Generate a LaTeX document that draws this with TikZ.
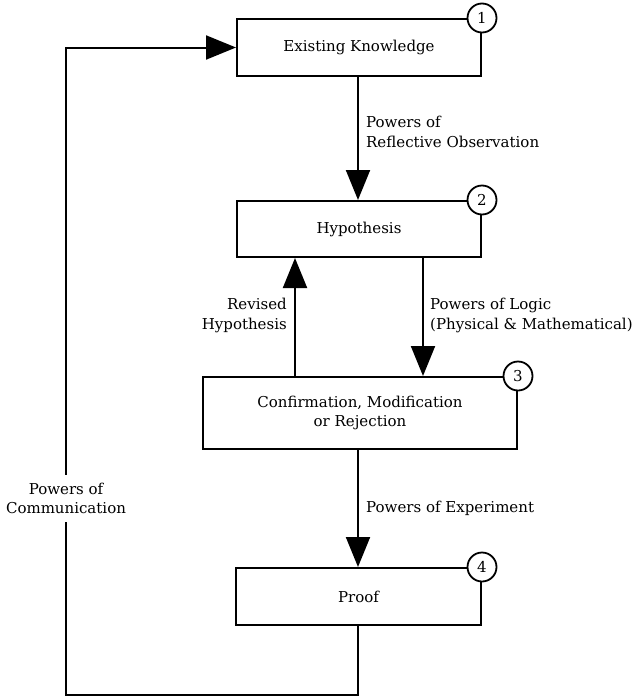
\documentclass[tikz,border=0pt]{standalone}
\usepackage{fontspec}
\setmainfont{DejaVu Serif}
\usetikzlibrary{arrows.meta}
\begin{document}
\begin{tikzpicture}[x=1pt,y=-1pt,
  every node/.style={font=\fontsize{15}{19.5}\selectfont},
  stage/.style={draw,line width=2pt,fill=white,inner sep=0pt},
  num/.style={draw,circle,line width=1.8pt,fill=white,minimum size=29pt,inner sep=0pt,
    font=\fontsize{15}{15}\selectfont},
  flow/.style={line width=2pt,-{Triangle[width=24pt,length=30pt]}},
  plain/.style={line width=2pt},
  lbl/.style={align=left,inner sep=0pt}]
\useasboundingbox (0,0) rectangle (632,699);

% the four stages
\node[stage,minimum width=244pt,minimum height=57pt] (b1) at (359,47.5) {Existing Knowledge};
\node[stage,minimum width=244pt,minimum height=56pt] (b2) at (359,229) {Hypothesis};
\node[stage,minimum width=314pt,minimum height=72pt,align=center] (b3) at (360,413)
  {Confirmation, Modification\\or Rejection};
\node[stage,minimum width=245pt,minimum height=57pt] (b4) at (358.5,596.5) {Proof};

% stage numbers on the top right corners
\node[num] (n1) at (b1.north east) {1};
\node[num] (n2) at (b2.north east) {2};
\node[num] (n3) at (b3.north east) {3};
\node[num] (n4) at (b4.north east) {4};

% forward steps
\coordinate (sp) at (358,0);
\coordinate (rv) at (295,0);
\coordinate (lg) at (423,0);
\draw[flow] (sp |- b1.south) -- (sp |- b2.north);
\draw[flow] (lg |- b2.south) -- (lg |- b3.north);
\draw[flow] (rv |- b3.north) -- (rv |- b2.south);
\draw[flow] (sp |- b3.south) -- (sp |- b4.north);

% step labels
\node[lbl,anchor=north west] (l1) at (366,116) {Powers of\\Reflective Observation};
\node[lbl,anchor=north east,align=right] (l2) at (287,298) {Revised\\Hypothesis};
\node[lbl,anchor=north west] (l3) at (430,298) {Powers of Logic\\(Physical \& Mathematical)};
\node[lbl,anchor=north west] (l4) at (366,501) {Powers of Experiment};

% feedback loop back to existing knowledge
\node[align=center,inner sep=0pt,minimum height=47pt] (comm) at (66,498.5)
  {Powers of\\Communication};
\coordinate (lb) at (66,695);
\draw[plain] (sp |- b4.south) |- (lb) -- (comm.south);
\draw[flow] (comm.north) |- (b1.west);
\end{tikzpicture}
\end{document}
